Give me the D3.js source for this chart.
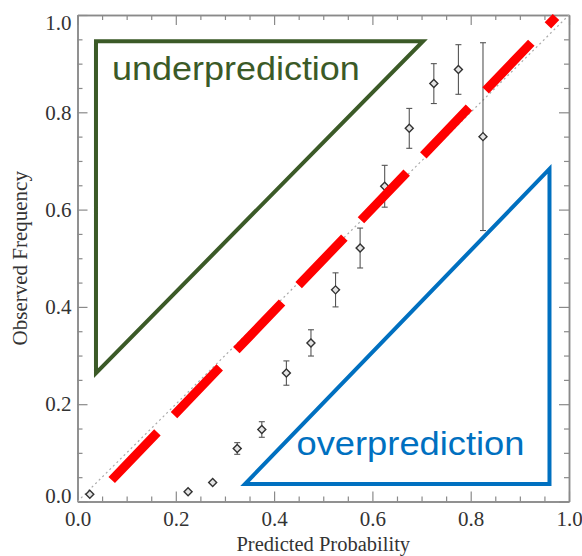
<!DOCTYPE html>
<html>
<head>
<meta charset="utf-8">
<script src="https://cdn.jsdelivr.net/npm/d3@7/dist/d3.min.js"></script>
<style>
  html, body { margin: 0; padding: 0; background: #fff; }
  svg { display: block; }
</style>
</head>
<body>
<svg id="chart" width="582" height="556"></svg>
<script>
// Reliability diagram: observed frequency vs. predicted probability
const predicted = [0.025, 0.225, 0.275, 0.325, 0.375, 0.425, 0.475, 0.525, 0.575, 0.625, 0.675, 0.725, 0.775, 0.825];
const observed  = [0.015, 0.020, 0.039, 0.109, 0.148, 0.264, 0.326, 0.435, 0.521, 0.648, 0.767, 0.859, 0.888, 0.750];
const errorHalf = [0, 0, 0, 0.012, 0.016, 0.025, 0.027, 0.035, 0.041, 0.043, 0.041, 0.041, 0.051, 0.193];

const majorTicks = [0, 0.2, 0.4, 0.6, 0.8, 1.0];
const minorTicks = d3.range(0, 1.0001, 0.05).filter(v => Math.abs(v * 5 - Math.round(v * 5)) > 1e-6);

// annotation shapes, in data units
const perfectLine   = [[0, 0], [1, 1]];
const trendLine     = [[0.0696, 0.0442], [0.9736, 0.9959]];
const underTriangle = [[0.0376, 0.946], [0.703, 0.946], [0.0376, 0.264]];
const overTriangle  = [[0.3408, 0.036], [0.9603, 0.036], [0.9603, 0.6835]];
const regionLabels  = [
  { text: "underprediction", x: 0.0700, y: 0.866, width: 248, color: "#3b5a27" },
  { text: "overprediction",  x: 0.4456, y: 0.095, width: 228, color: "#0070c0" }
];

const svg = d3.select("#chart");
const x = d3.scaleLinear().domain([0, 1]).range([77.5, 569]);
const y = d3.scaleLinear().domain([0, 1]).range([501.5, 15]);

const tickColor = "#8a8a8a";
const labelFont = "'Liberation Serif', 'Times New Roman', serif";

function styleAxis(g) {
  g.selectAll("path.domain").attr("stroke", tickColor).attr("stroke-width", 1.5);
  g.selectAll(".tick line").attr("stroke", tickColor).attr("stroke-width", 1.2);
  g.selectAll(".tick text").attr("fill", "#333").attr("font-family", null)
    .style("font-family", labelFont).style("font-size", "21px");
}

// major + minor ticks on all four sides, pointing inward
const sides = [
  { axis: d3.axisBottom, scale: x, tr: `translate(0,${y(0)})`, labels: true,  name: "bottom" },
  { axis: d3.axisTop,    scale: x, tr: `translate(0,${y(1)})`, labels: false, name: "top" },
  { axis: d3.axisLeft,   scale: y, tr: `translate(${x(0)},0)`, labels: true,  name: "left" },
  { axis: d3.axisRight,  scale: y, tr: `translate(${x(1)},0)`, labels: false, name: "right" }
];
const axisGroups = {};
sides.forEach(s => {
  svg.append("g").attr("transform", s.tr)
    .call(s.axis(s.scale).tickValues(minorTicks).tickSize(-5).tickSizeOuter(0).tickFormat(""))
    .call(styleAxis);
  axisGroups[s.name] = svg.append("g").attr("transform", s.tr)
    .call(s.axis(s.scale).tickValues(majorTicks).tickSizeInner(-10).tickSizeOuter(0)
      .tickFormat(s.labels ? d3.format(".1f") : ""))
    .call(styleAxis);
});

// tick label placement
axisGroups.bottom.selectAll(".tick text").attr("y", 10);
axisGroups.left.selectAll(".tick text").attr("x", -6)
  .attr("dy", d => d === 1 ? "0.7em" : d === 0 ? "0.06em" : "0.32em");

// axis titles
svg.append("text")
  .attr("x", (x(0) + x(1)) / 2).attr("y", 551)
  .attr("text-anchor", "middle")
  .style("font-family", labelFont).style("font-size", "20.5px").attr("fill", "#333")
  .text("Predicted Probability");
svg.append("text")
  .attr("transform", `translate(27,${(y(0) + y(1)) / 2}) rotate(-90)`)
  .attr("text-anchor", "middle")
  .style("font-family", labelFont).style("font-size", "21px").attr("fill", "#333")
  .text("Observed Frequency");

const line = d3.line().x(d => x(d[0])).y(d => y(d[1]));

// perfect-reliability diagonal
svg.append("path").attr("d", line(perfectLine))
  .attr("fill", "none").attr("stroke", "#aaa").attr("stroke-width", 1.2)
  .attr("stroke-dasharray", "2,3");

// error bars
const pts = predicted.map((p, i) => ({ p, o: observed[i], e: errorHalf[i] }));
const bars = svg.append("g").attr("stroke", "#555").attr("stroke-width", 1.1);
pts.filter(d => d.e > 0).forEach(d => {
  bars.append("line").attr("x1", x(d.p)).attr("x2", x(d.p)).attr("y1", y(d.o - d.e)).attr("y2", y(d.o + d.e));
  [d.o - d.e, d.o + d.e].forEach(v => {
    bars.append("line").attr("x1", x(d.p) - 3).attr("x2", x(d.p) + 3).attr("y1", y(v)).attr("y2", y(v));
  });
});

// diamond markers
const diamond = d3.symbol(d3.symbolSquare, 32);
svg.append("g").selectAll("path").data(pts).join("path")
  .attr("d", diamond)
  .attr("transform", d => `translate(${x(d.p)},${y(d.o)}) rotate(45)`)
  .attr("fill", "#e4e4e4").attr("stroke", "#333").attr("stroke-width", 1.4);

// red dashed trend line
svg.append("path").attr("d", line(trendLine))
  .attr("fill", "none").attr("stroke", "#ff0000").attr("stroke-width", 9)
  .attr("stroke-dasharray", "66,24");

// region triangles
const closed = d3.line().x(d => x(d[0])).y(d => y(d[1])).curve(d3.curveLinearClosed);
svg.append("path").attr("d", closed(underTriangle))
  .attr("fill", "none").attr("stroke", "#3b5a27").attr("stroke-width", 4).attr("stroke-linejoin", "miter").attr("stroke-miterlimit", 10);
svg.append("path").attr("d", closed(overTriangle))
  .attr("fill", "none").attr("stroke", "#0070c0").attr("stroke-width", 4).attr("stroke-linejoin", "miter").attr("stroke-miterlimit", 10);

svg.append("g").selectAll("text").data(regionLabels).join("text")
  .attr("x", d => x(d.x)).attr("y", d => y(d.y))
  .attr("fill", d => d.color)
  .attr("textLength", d => d.width).attr("lengthAdjust", "spacingAndGlyphs")
  .style("font-family", "'Liberation Sans', Arial, sans-serif").style("font-size", "34px")
  .text(d => d.text);
</script>
</body>
</html>
